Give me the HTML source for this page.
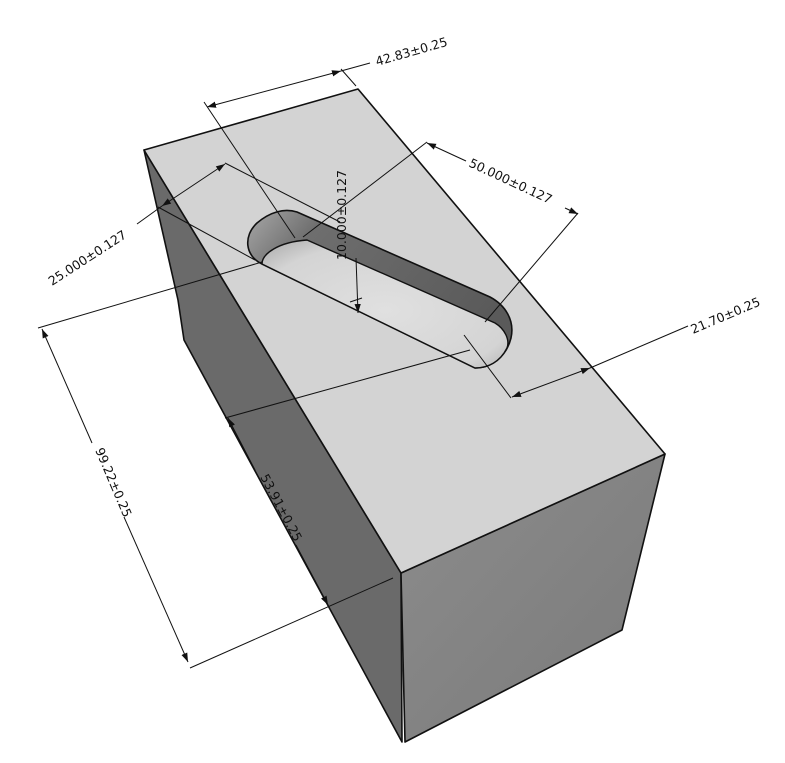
<!DOCTYPE html>
<html><head><meta charset="utf-8"><style>
html,body{margin:0;padding:0;background:#fff;}
svg{display:block;}
text{font-family:"DejaVu Sans","Liberation Sans",sans-serif;font-size:12.5px;fill:#111;}
</style></head><body>
<svg width="785" height="763" viewBox="0 0 785 763" xmlns="http://www.w3.org/2000/svg">
<defs>
<linearGradient id="front" x1="0" y1="0" x2="1" y2="1">
<stop offset="0" stop-color="#8c8c8c"/><stop offset="1" stop-color="#7a7a7a"/></linearGradient>
<linearGradient id="wall" x1="0" y1="0" x2="1" y2="0.5">
<stop offset="0" stop-color="#a8a8a8"/><stop offset="0.25" stop-color="#6e6e6e"/><stop offset="1" stop-color="#5a5a5a"/></linearGradient>
<radialGradient id="floor" cx="0.5" cy="0.55" r="0.7">
<stop offset="0" stop-color="#e0e0e0"/><stop offset="0.75" stop-color="#d4d4d4"/><stop offset="1" stop-color="#b0b0b0"/></radialGradient>
<marker id="ar" viewBox="0 0 10 10" refX="10" refY="5" markerWidth="9" markerHeight="9" orient="auto-start-reverse" markerUnits="userSpaceOnUse">
<path d="M0,1.5 L10,5 L0,8.5 Z" fill="#111"/></marker>
</defs>
<polygon points="144,150 401,573 402,742 184,340 178,300" fill="#6a6a6a" stroke="#111" stroke-width="1.6" stroke-linejoin="round"/>
<polygon points="401,573 665,454 622,630 405,742" fill="url(#front)" stroke="#111" stroke-width="1.6" stroke-linejoin="round"/>
<polygon points="144,150 358,89 665,454 401,573" fill="#d3d3d3" stroke="#111" stroke-width="1.6" stroke-linejoin="round"/>
<!-- slot rim -->
<path d="M297,212 L490,297 C505,305 515,320 511,338 C506,358 490,368 475,368 L262,264 C245,256 243,236 257,223 C270,212 284,208 297,212 Z" fill="url(#wall)" stroke="#111" stroke-width="1.6"/>
<!-- slot floor -->
<path d="M307,240 L495,323 C505,329 510,340 507,348 C500,362 488,368 475,368 L262,264 C262,254 278,242 307,240 Z" fill="url(#floor)" stroke="#111" stroke-width="1.4"/>
<g stroke="#111" stroke-width="1" fill="none">
<line x1="207" y1="107" x2="341" y2="71" marker-start="url(#ar)" marker-end="url(#ar)"/>
<line x1="341" y1="71" x2="370" y2="63"/>
<line x1="204" y1="102" x2="295" y2="238"/>
<line x1="341" y1="69" x2="356" y2="86"/>
<line x1="162" y1="206" x2="225" y2="164" marker-start="url(#ar)" marker-end="url(#ar)"/>
<line x1="162" y1="206" x2="137" y2="224"/>
<line x1="225" y1="163" x2="340" y2="222"/>
<line x1="158" y1="207" x2="255" y2="260"/>
<line x1="427" y1="143" x2="466" y2="161" marker-start="url(#ar)"/>
<line x1="565" y1="208" x2="578" y2="214" marker-end="url(#ar)"/>
<line x1="427" y1="142" x2="303" y2="237"/>
<line x1="578" y1="213" x2="485" y2="322"/>
<line x1="356" y1="258" x2="358" y2="313" marker-end="url(#ar)"/>
<line x1="350" y1="302" x2="362" y2="298"/>
<line x1="512" y1="397" x2="590" y2="368" marker-start="url(#ar)" marker-end="url(#ar)"/>
<line x1="590" y1="368" x2="688" y2="326"/>
<line x1="464" y1="335" x2="511" y2="398"/>
<line x1="38" y1="328" x2="262" y2="262"/>
<line x1="225" y1="418" x2="470" y2="350"/>
<line x1="42" y1="329" x2="92" y2="443" marker-start="url(#ar)"/>
<line x1="124" y1="517" x2="188" y2="662" marker-end="url(#ar)"/>
<line x1="190" y1="668" x2="393" y2="578"/>
<line x1="228" y1="418" x2="255" y2="470" marker-start="url(#ar)"/>
<line x1="296" y1="545" x2="328" y2="605" marker-end="url(#ar)"/>
</g>
<text transform="translate(377,66) rotate(-16)">42.83±0.25</text>
<text transform="translate(52,286) rotate(-33)">25.000±0.127</text>
<text transform="translate(468,166) rotate(25)">50.000±0.127</text>
<text transform="translate(346,260) rotate(-90)">10.000±0.127</text>
<text transform="translate(693,334) rotate(-23)">21.70±0.25</text>
<text transform="translate(95,450) rotate(67)">99.22±0.25</text>
<text transform="translate(260,477) rotate(62)">53.91±0.25</text>
</svg>
</body></html>
